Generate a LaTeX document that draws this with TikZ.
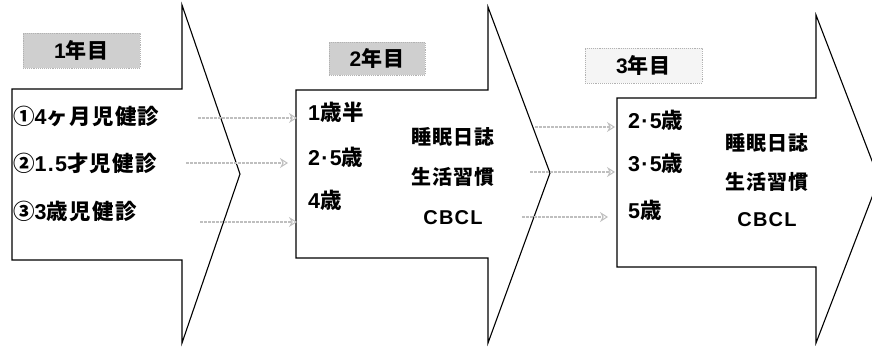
\documentclass[tikz,border=0pt]{standalone}
\usepackage{fontspec}
\setmainfont{Noto Sans CJK JP}
\newfontfamily\jp[LetterSpace=6]{Noto Sans CJK JP}
\newfontfamily\lat[LetterSpace=6]{Liberation Sans}
\usetikzlibrary{arrows.meta}
\begin{document}
\begin{tikzpicture}[x=1pt,y=-1pt,
  bigarrow/.style={draw=black, line width=1.1pt, fill=white, line join=miter},
  yearbox/.style={fill=gray!38, draw=gray!60, line width=0.9pt, densely dotted, inner sep=0pt,
    font=\jp\bfseries\fontsize{21pt}{23pt}\selectfont},
  lbl/.style={anchor=west, inner sep=0pt, font=\jp\bfseries\fontsize{21.5pt}{24pt}\selectfont},
  midlbl/.style={anchor=center, inner sep=0pt, font=\jp\bfseries\fontsize{20pt}{22pt}\selectfont},
  link/.style={draw=gray!50, line width=2.8pt, dash pattern=on 3pt off 1pt,
    -{Stealth[open,length=8pt,width=10pt,line width=1pt]}}
]
\clip (0,0) rectangle (872,351);
% big arrows
\draw[bigarrow] (12,89) -- (182,89) -- (182,5) -- (240,174) -- (182,343) -- (182,260) -- (12,260) -- cycle;
\draw[bigarrow] (296,90) -- (488,90) -- (488,7) -- (550,173) -- (488,343) -- (488,258) -- (296,258) -- cycle;
\draw[bigarrow] (617,98) -- (816,98) -- (816,15) -- (879,179) -- (816,343) -- (816,267) -- (617,267) -- cycle;
% year boxes
\node[yearbox, minimum width=117pt, minimum height=35pt] (y1) at (81.5,50.5) {{\lat\bfseries 1}年目};
\node[yearbox, minimum width=96pt, minimum height=33pt] (y2) at (377,58.5) {{\lat\bfseries 2}年目};
\node[yearbox, fill=gray!8, minimum width=117pt, minimum height=35pt] (y3) at (643.5,65.5) {{\lat\bfseries 3}年目};
% arrow 1 texts
\node[lbl] (a1) at (13,116) {①{\lat\bfseries 4}ヶ月児健診};
\node[lbl] (a2) at (13,163) {②{\lat\bfseries 1.5}才児健診};
\node[lbl] (a3) at (13,211) {③{\lat\bfseries 3}歳児健診};
% arrow 2 texts
\node[lbl] (b1) at (308,112) {{\lat\bfseries 1}歳半};
\node[lbl] (b2) at (308,157) {{\lat\bfseries 2·5}歳};
\node[lbl] (b3) at (308,200) {{\lat\bfseries 4}歳};
\node[midlbl] (b4) at (453,137) {睡眠日誌};
\node[midlbl] (b5) at (453,177) {生活習慣};
\node[midlbl] (b6) at (453,218) {{\lat\bfseries CBCL}};
% arrow 3 texts
\node[lbl] (e1) at (628,120) {{\lat\bfseries 2·5}歳};
\node[lbl] (e2) at (628,163) {{\lat\bfseries 3·5}歳};
\node[lbl] (e3) at (628,210) {{\lat\bfseries 5}歳};
\node[midlbl] (e4) at (767,143) {睡眠日誌};
\node[midlbl] (e5) at (767,182) {生活習慣};
\node[midlbl] (e6) at (767,220) {{\lat\bfseries CBCL}};
% connectors
\coordinate (c1a) at (198,118); \coordinate (c1b) at (297,118);
\coordinate (c2a) at (186,163); \coordinate (c2b) at (288,163);
\coordinate (c3a) at (200,222); \coordinate (c3b) at (297,222);
\coordinate (d1a) at (535,127); \coordinate (d1b) at (615,127);
\coordinate (d2a) at (530,172); \coordinate (d2b) at (615,172);
\coordinate (d3a) at (522,217); \coordinate (d3b) at (608,217);
\draw[link] (c1a) -- (c1b);
\draw[link] (c2a) -- (c2b);
\draw[link] (c3a) -- (c3b);
\draw[link] (d1a) -- (d1b);
\draw[link] (d2a) -- (d2b);
\draw[link] (d3a) -- (d3b);
\end{tikzpicture}
\end{document}
